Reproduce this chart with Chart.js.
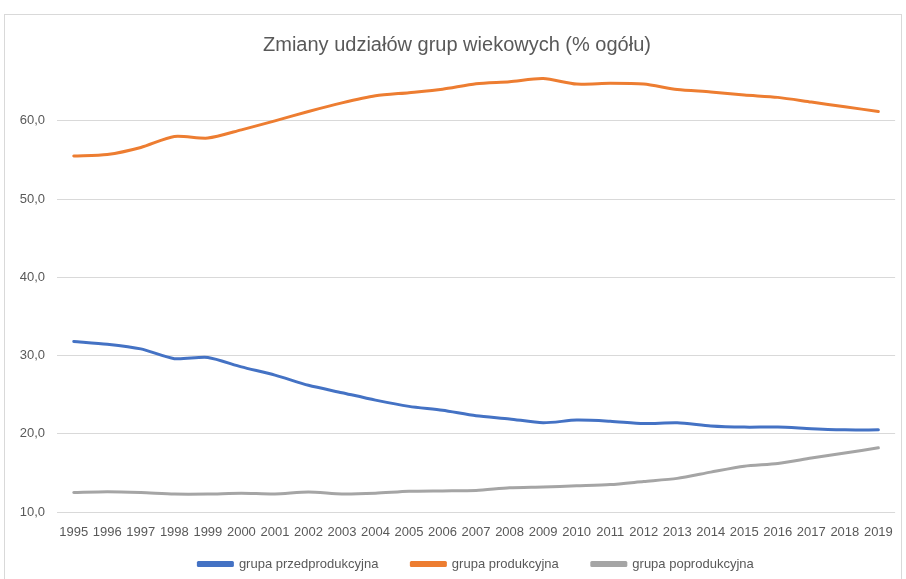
<!DOCTYPE html>
<html>
<head>
<meta charset="utf-8">
<script src="https://cdn.jsdelivr.net/npm/chart.js@4.4.1/dist/chart.umd.min.js"></script>
<style>
  html, body { margin: 0; padding: 0; background: #ffffff; }
  #wrap { width: 906px; height: 579px; }
</style>
</head>
<body>
<div id="wrap"><canvas id="c" width="906" height="579"></canvas></div>
<script>
const years = ['1995','1996','1997','1998','1999','2000','2001','2002','2003','2004','2005','2006','2007','2008','2009','2010','2011','2012','2013','2014','2015','2016','2017','2018','2019'];
const przedprodukcyjna = [31.8,31.45,30.85,29.6,29.75,28.55,27.5,26.2,25.25,24.3,23.5,23.0,22.3,21.9,21.4,21.75,21.6,21.3,21.4,21.0,20.85,20.85,20.65,20.5,20.5];
const produkcyjna = [55.5,55.7,56.6,58.0,57.8,58.85,60.0,61.2,62.3,63.2,63.6,64.05,64.75,65.0,65.4,64.7,64.8,64.7,64.0,63.7,63.3,63.0,62.4,61.8,61.2];
const poprodukcyjna = [12.5,12.6,12.5,12.3,12.3,12.4,12.3,12.55,12.3,12.4,12.65,12.7,12.75,13.1,13.2,13.35,13.5,13.9,14.3,15.1,15.85,16.2,16.9,17.55,18.2];
const seriesNames = ['grupa przedprodukcyjna','grupa produkcyjna','grupa poprodukcyjna'];
const titleText = 'Zmiany udziałów grup wiekowych (% ogółu)';

const FONT = "'Liberation Sans', Arial, sans-serif";
const TXT = '#595959';

const frame = {
  id: 'frame',
  beforeDraw(chart) {
    const ctx = chart.ctx;
    ctx.save();
    ctx.fillStyle = '#ffffff';
    ctx.fillRect(0, 0, chart.width, chart.height);
    ctx.strokeStyle = '#d9d9d9';
    ctx.lineWidth = 1;
    ctx.strokeRect(4.5, 14.5, 897, 620);
    ctx.restore();
  }
};

// move the legend row up so it sits like the reference (keep its bottom edge)
const legendShift = {
  id: 'legendShift',
  afterLayout(chart) {
    const lg = chart.legend;
    if (lg) { lg.top -= 13.5; lg.height += 13.5; }
  }
};

function ds(label, data, color) {
  return {
    label, data,
    borderColor: color,
    backgroundColor: color,
    borderWidth: 3,
    pointRadius: 0,
    pointHoverRadius: 0,
    tension: 0.25,
    borderCapStyle: 'round',
    borderJoinStyle: 'round',
    fill: false
  };
}

new Chart(document.getElementById('c'), {
  type: 'line',
  data: {
    labels: years,
    datasets: [
      ds(seriesNames[0], przedprodukcyjna, '#4472C4'),
      ds(seriesNames[1], produkcyjna, '#ED7D31'),
      ds(seriesNames[2], poprodukcyjna, '#A5A5A5')
    ]
  },
  plugins: [frame, legendShift],
  options: {
    responsive: false,
    animation: false,
    devicePixelRatio: 1,
    layout: { padding: { top: 15, left: 17, right: 9, bottom: 0 } },
    plugins: {
      title: {
        display: true,
        text: titleText,
        color: TXT,
        font: { family: FONT, size: 20, weight: 'normal' },
        padding: { top: 18, bottom: 13 }
      },
      legend: {
        position: 'bottom',
        fullSize: false,
        maxHeight: 41,
        labels: {
          color: TXT,
          font: { family: FONT, size: 13 },
          boxWidth: 34,
          boxHeight: 3,
          padding: 33
        }
      },
      tooltip: { enabled: false }
    },
    scales: {
      x: {
        offset: true,
        grid: { display: false, drawTicks: false },
        border: { display: false },
        afterFit(scale) { scale.height = 26; },
        ticks: {
          color: TXT,
          font: { family: FONT, size: 13 },
          autoSkip: false,
          maxRotation: 0,
          padding: 13
        }
      },
      y: {
        min: 10,
        max: 66.5,
        grid: { color: '#d9d9d9', lineWidth: 1, drawTicks: false },
        border: { display: false },
        afterBuildTicks(scale) {
          scale.ticks = scale.ticks.filter(t => Math.abs(t.value % 10) < 1e-9);
        },
        afterFit(scale) { scale.width = 40; },
        ticks: {
          stepSize: 10,
          color: TXT,
          font: { family: FONT, size: 13 },
          padding: 12,
          callback: v => Number(v).toFixed(1).replace('.', ',')
        }
      }
    }
  }
});
</script>
</body>
</html>
